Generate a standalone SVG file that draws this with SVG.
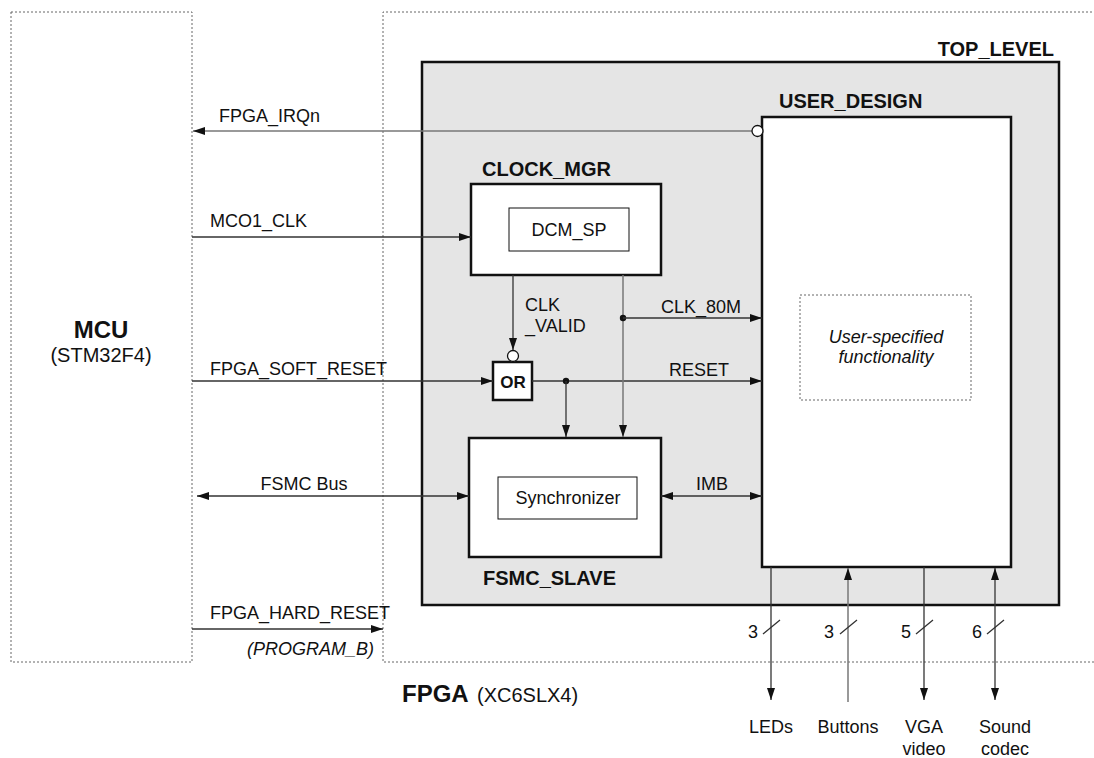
<svg xmlns="http://www.w3.org/2000/svg" width="1094" height="758" viewBox="0 0 1094 758">
<style>
text{font-family:"Liberation Sans",Arial,sans-serif;fill:#111}
.lbl{font-size:18px}
.ttl{font-size:20px;font-weight:bold}
.dot{fill:none;stroke:#666;stroke-width:1;stroke-dasharray:2,2}
.blk{fill:#fff;stroke:#111;stroke-width:2.5}
.thin{fill:#fff;stroke:#111;stroke-width:1}
.w{fill:none;stroke:#333;stroke-width:1.3}
.g{fill:none;stroke:#777;stroke-width:1.5}
</style>
<defs>
<marker id="arr" viewBox="0 0 12 8" refX="12" refY="4" markerWidth="12" markerHeight="8" markerUnits="userSpaceOnUse" orient="auto-start-reverse"><path d="M0,0 L12,4 L0,8 z" fill="#111"/></marker>
</defs>
<rect width="1094" height="758" fill="#fff"/>

<g id="mcu">
<rect class="dot" x="11" y="12" width="181" height="650"/>
<text x="101" y="338" text-anchor="middle" style="font-size:24px;font-weight:bold">MCU</text>
<text x="101" y="362" text-anchor="middle" style="font-size:20px">(STM32F4)</text>
</g>

<g id="fpga">
<path class="dot" d="M1100,12 H383 V662 H1100"/>
<text x="402" y="702" style="font-size:24px;font-weight:bold">FPGA</text>
<text x="477" y="702" style="font-size:20px">(XC6SLX4)</text>
</g>

<g id="top_level">
<rect x="422" y="62" width="637" height="543" fill="#e5e5e5" stroke="#111" stroke-width="2.5"/>
<text class="ttl" x="1054" y="56" text-anchor="end">TOP_LEVEL</text>
</g>

<g id="user_design">
<rect class="blk" x="762" y="117" width="249" height="450"/>
<text class="ttl" x="779" y="108">USER_DESIGN</text>
<rect class="dot" x="800" y="295" width="171" height="105"/>
<text class="lbl" x="886" y="343" text-anchor="middle" font-style="italic">User-specified</text>
<text class="lbl" x="886" y="363" text-anchor="middle" font-style="italic">functionality</text>
</g>

<g id="clock_mgr">
<rect class="blk" x="471" y="184" width="190" height="91"/>
<text class="ttl" x="482" y="176">CLOCK_MGR</text>
<rect class="thin" x="509" y="208" width="120" height="43"/>
<text class="lbl" x="569" y="236" text-anchor="middle">DCM_SP</text>
</g>

<g id="or_gate">
<rect class="blk" x="493" y="362" width="39" height="38"/>
<text x="513" y="388" text-anchor="middle" style="font-size:17px;font-weight:bold">OR</text>
</g>

<g id="fsmc_slave">
<rect class="blk" x="469" y="438" width="192" height="119"/>
<text class="ttl" x="483" y="585">FSMC_SLAVE</text>
<rect class="thin" x="498" y="477" width="139" height="42"/>
<text class="lbl" x="568" y="504" text-anchor="middle">Synchronizer</text>
</g>

<g id="connectors">
<line class="g" x1="752" y1="131" x2="193" y2="131" marker-end="url(#arr)"/>
<circle cx="757.5" cy="131" r="5.5" fill="#fff" stroke="#111" stroke-width="1.3"/>
<text class="lbl" x="219" y="122">FPGA_IRQn</text>

<line class="w" x1="192" y1="237" x2="471" y2="237" marker-end="url(#arr)"/>
<text class="lbl" x="210" y="227">MCO1_CLK</text>

<line class="w" x1="513" y1="275" x2="513" y2="350" marker-end="url(#arr)"/>
<circle cx="513" cy="356" r="5.5" fill="#fff" stroke="#111" stroke-width="1.3"/>
<text class="lbl" x="525" y="311">CLK</text>
<text class="lbl" x="525" y="332">_VALID</text>

<line class="w" x1="192" y1="381" x2="493" y2="381" marker-end="url(#arr)"/>
<text class="lbl" x="210" y="375">FPGA_SOFT_RESET</text>

<line class="w" x1="532" y1="381" x2="762" y2="381" marker-end="url(#arr)"/>
<text class="lbl" x="669" y="376">RESET</text>
<circle cx="566" cy="381" r="3.2" fill="#111"/>
<line class="w" x1="566" y1="381" x2="566" y2="437" marker-end="url(#arr)"/>

<line class="g" x1="623" y1="275" x2="623" y2="437" marker-end="url(#arr)"/>
<circle cx="623" cy="318" r="3.2" fill="#111"/>
<line class="w" x1="623" y1="318" x2="762" y2="318" marker-end="url(#arr)"/>
<text class="lbl" x="661" y="313">CLK_80M</text>

<line class="w" x1="197" y1="496" x2="469" y2="496" marker-start="url(#arr)" marker-end="url(#arr)"/>
<text class="lbl" x="304" y="490" text-anchor="middle">FSMC Bus</text>

<line class="w" x1="661" y1="496" x2="762" y2="496" marker-start="url(#arr)" marker-end="url(#arr)"/>
<text class="lbl" x="712" y="490" text-anchor="middle">IMB</text>

<line class="w" x1="192" y1="629" x2="383" y2="629" marker-end="url(#arr)"/>
<text class="lbl" x="210" y="619">FPGA_HARD_RESET</text>
<text class="lbl" x="247" y="655" font-style="italic">(PROGRAM_B)</text>

<line class="w" x1="771" y1="567" x2="771" y2="700" marker-end="url(#arr)"/>
<line class="g" x1="848" y1="702" x2="848" y2="568" marker-end="url(#arr)"/>
<line class="w" x1="924" y1="567" x2="924" y2="700" marker-end="url(#arr)"/>
<line class="w" x1="995" y1="568" x2="995" y2="700" marker-start="url(#arr)" marker-end="url(#arr)"/>

<path class="w" d="M763,634 L780,620 M840,634 L857,620 M916,634 L933,620 M987,634 L1004,620"/>
<text class="lbl" x="748" y="638">3</text>
<text class="lbl" x="824" y="638">3</text>
<text class="lbl" x="901" y="638">5</text>
<text class="lbl" x="972" y="638">6</text>

<text class="lbl" x="771" y="733" text-anchor="middle">LEDs</text>
<text class="lbl" x="848" y="733" text-anchor="middle">Buttons</text>
<text class="lbl" x="924" y="733" text-anchor="middle">VGA</text>
<text class="lbl" x="924" y="755" text-anchor="middle">video</text>
<text class="lbl" x="1005" y="733" text-anchor="middle">Sound</text>
<text class="lbl" x="1005" y="755" text-anchor="middle">codec</text>
</g>
</svg>
